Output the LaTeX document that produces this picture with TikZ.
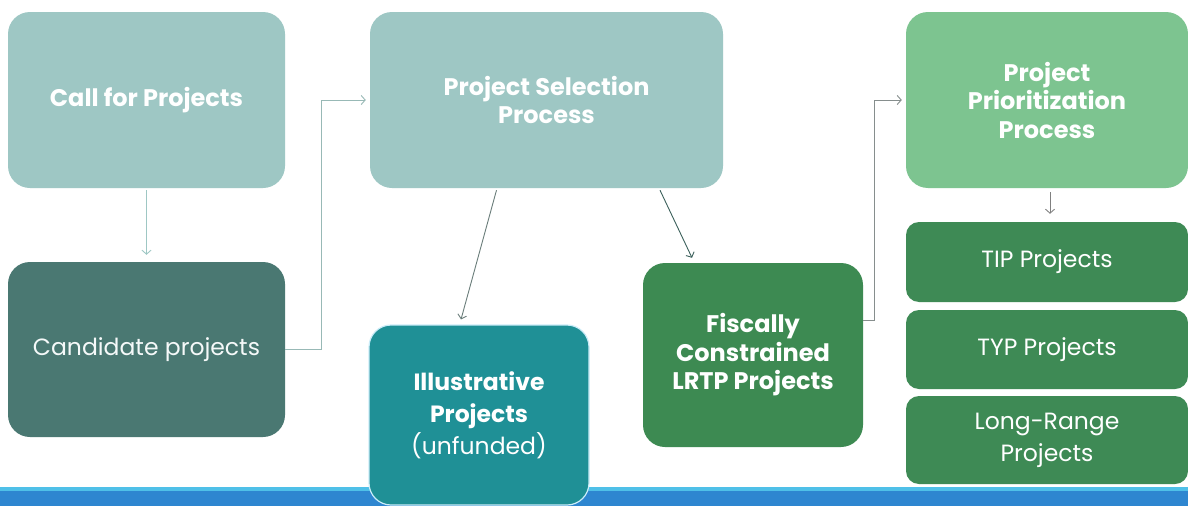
\documentclass[tikz,border=0pt]{standalone}
\usepackage{fontspec}
\setmainfont{Poppins}
\usetikzlibrary{arrows.meta,calc}
\definecolor{cLight}{HTML}{9EC7C4}
\definecolor{cCand}{HTML}{4A7872}
\definecolor{cIll}{HTML}{1F9096}
\definecolor{cFis}{HTML}{3D8A52}
\definecolor{cPri}{HTML}{7DC490}
\definecolor{cTip}{HTML}{3E8A55}
\definecolor{cBar}{HTML}{2E86D0}
\definecolor{cBarTop}{HTML}{4FC0E8}
\begin{document}
\begin{tikzpicture}[x=1pt,y=-1pt,
  box/.style={rounded corners=22pt,inner sep=0pt,align=center,text=white},
  small/.style={rounded corners=13pt,inner sep=0pt,align=center,text=white},
  bfont/.style={font=\fontsize{24}{28.5}\selectfont\bfseries},
  rfont/.style={font=\fontsize{23.5}{32}\selectfont},
  arr/.style={line width=0.9pt,-{Straight Barb[length=4pt,width=9pt]}}]
\useasboundingbox (0,0) rectangle (1188,506);
\fill[white] (0,0) rectangle (1188,506);
% bottom bar
\fill[cBarTop] (0,487) rectangle (1188,492);
\fill[cBar] (0,491) rectangle (1188,506);
% boxes
\node[box,bfont,fill=cLight,minimum width=277pt,minimum height=176pt] (call) at (146.5,100) {Call for Projects};
\node[box,rfont,fill=cCand,minimum width=277pt,minimum height=175pt,text=white!90!cLight] (cand) at (146.5,349.5) {Candidate projects};
\node[box,bfont,fill=cLight,minimum width=353pt,minimum height=176pt] (sel) at (546.5,100) {Project Selection\\Process};
\node[box,rfont,fill=cIll,draw=white!70!cBarTop,line width=1.2pt,minimum width=220pt,minimum height=180pt] (ill) at (479,415) {\textbf{Illustrative}\\\textbf{Projects}\\(unfunded)};
\node[box,bfont,fill=cFis,minimum width=220pt,minimum height=184pt] (fis) at (753,355) {Fiscally\\Constrained\\LRTP Projects};
\node[box,bfont,fill=cPri,minimum width=282pt,minimum height=176pt] (pri) at (1047,100) {Project\\Prioritization\\Process};
\node[small,rfont,fill=cTip,minimum width=282pt,minimum height=80pt] (tip) at (1047,262) {TIP Projects};
\node[small,rfont,fill=cTip,minimum width=282pt,minimum height=79pt] (typ) at (1047,349.5) {TYP Projects};
\node[small,rfont,fill=cTip,minimum width=282pt,minimum height=88pt] (lr) at (1047,440) {Long-Range\\Projects};
% connectors
\draw[arr,draw=cLight] ([yshift=-2pt]call.south) -- ([yshift=7pt]cand.north);
\draw[arr,draw=cLight!80!gray] (cand.east) -- ++(36,0) |- ([xshift=-4pt]sel.west);
\draw[arr,draw=gray!60!cCand] ([xshift=-50pt,yshift=-2pt]sel.south) -- ([xshift=-18pt,yshift=5pt]ill.north);
\draw[arr,draw=cCand!80!black] ([xshift=113.5pt,yshift=-2pt]sel.south) -- ([xshift=-61pt,yshift=5pt]fis.north);
\draw[arr,draw=gray!80!cLight] ([yshift=35pt]fis.east) -- ++(11,0) |- ([xshift=-4pt]pri.west);
\draw[arr,draw=gray] ([xshift=3pt,yshift=-4pt]pri.south) -- ([xshift=3pt,yshift=8pt]tip.north);
\end{tikzpicture}
\end{document}
